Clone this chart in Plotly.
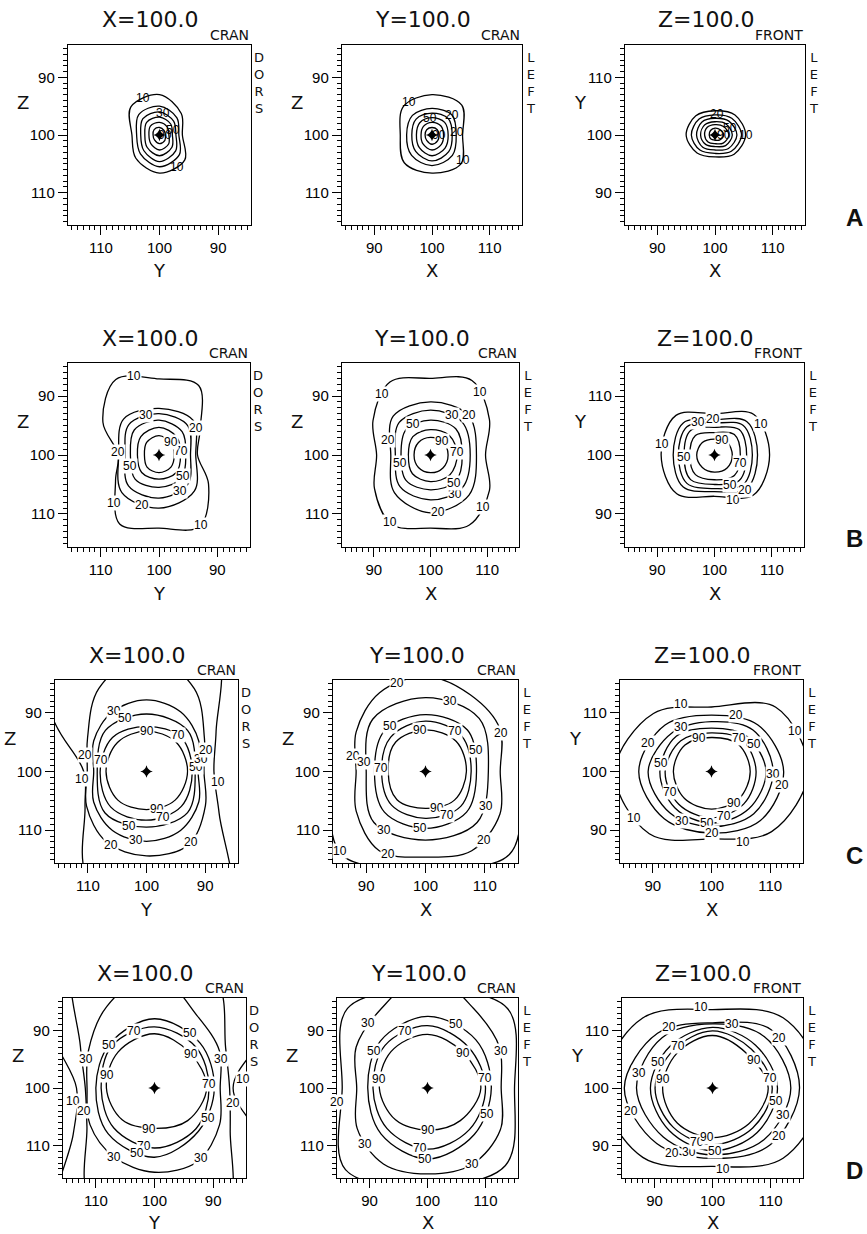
import math
import plotly.graph_objects as go

# ---------------------------------------------------------------------------
# DATA  (isodose contours)
# Each contour is a list of radii (data units) from the isocentre (100,100),
# evenly spaced counter-clockwise on screen starting at 3 o'clock.
# Labels: (level, screen angle in degrees) where the value is printed.
# ---------------------------------------------------------------------------
LEVELS_STD = [10, 20, 30, 50, 70, 90]

# ---- Row A
A1_LEVELS = LEVELS_STD
A1_RADII = [
    [3.9, 5.25, 7.0, 6.9, 4.7, 5.7, 6.6, 6.1],
    [3.3, 4.2, 5.0, 5.0, 3.9, 4.6, 5.5, 4.8],
    [2.8, 3.4, 4.0, 4.0, 3.2, 3.8, 4.6, 3.9],
    [2.2, 2.7, 3.1, 3.1, 2.5, 3.0, 3.6, 3.0],
    [1.6, 1.9, 2.2, 2.2, 1.8, 2.1, 2.6, 2.2],
    [1.0, 1.1, 1.3, 1.3, 1.1, 1.2, 1.5, 1.3],
]
A1_LABELS = [(10, 114), (10, 298), (30, 80), (50, 22), (90, 0)]

A2_LEVELS = LEVELS_STD
A2_RADII = [
    [5.3, 7.3, 7.0, 7.0, 5.5, 6.8, 6.6, 7.1],
    [4.2, 4.9, 4.6, 4.8, 4.4, 5.0, 5.3, 5.0],
    [3.5, 4.0, 3.8, 3.9, 3.5, 4.0, 4.5, 4.1],
    [2.8, 3.1, 3.0, 3.0, 2.7, 3.1, 3.6, 3.2],
    [2.0, 2.2, 2.2, 2.1, 1.9, 2.2, 2.6, 2.3],
    [1.2, 1.3, 1.3, 1.3, 1.2, 1.3, 1.6, 1.4],
]
A2_LABELS = [(10, 125), (10, 321), (50, 95), (20, 45), (20, 8), (90, 0)]

A3_LEVELS = LEVELS_STD
A3_RADII = [
    [5.3, 4.9, 4.2, 4.7, 5.0, 4.4, 3.8, 4.7],
    [4.6, 4.1, 3.5, 3.9, 4.1, 3.7, 3.2, 4.0],
    [3.8, 3.4, 2.9, 3.2, 3.2, 3.0, 2.6, 3.3],
    [3.0, 2.7, 2.3, 2.5, 2.5, 2.3, 2.0, 2.6],
    [2.4, 2.1, 1.8, 1.9, 1.8, 1.7, 1.5, 2.0],
    [1.5, 1.3, 1.2, 1.1, 1.0, 1.0, 0.9, 1.2],
]
A3_LABELS = [(10, 0), (20, 85), (50, 25), (90, 0)]

# ---- Row B
B1_LEVELS = LEVELS_STD
B1_RADII = [
    [6.6, 8.1, 13.6, 12.9, 14.8, 11.1, 7.0, 8.6, 13.5, 12.4, 14.0, 9.8],
    [6.3, 8.3, 7.9, 8.6, 6.9, 9.0, 9.0, 8.6],
    [5.4, 7.0, 7.0, 7.3, 5.8, 7.4, 7.3, 7.0],
    [4.6, 5.6, 5.9, 6.0, 4.9, 5.8, 5.5, 5.5],
    [3.7, 4.3, 4.7, 4.4, 3.7, 4.2, 4.1, 4.2],
    [2.6, 2.9, 3.3, 3.0, 2.5, 2.9, 3.0, 2.9],
]
B1_LABELS = [(10, 108), (10, 301), (10, 226), (20, 176), (20, 36), (20, 251), (30, 108),
             (30, 301), (50, 200), (50, 318), (70, 10), (90, 47)]

B2_LEVELS = LEVELS_STD
B2_RADII = [
    [9.7, 12.0, 14.6, 13.0, 14.3, 11.7, 9.5, 11.4, 13.6, 12.4, 13.7, 12.0],
    [8.1, 9.5, 9.0, 9.3, 7.0, 9.0, 9.8, 9.6],
    [7.0, 7.9, 7.6, 7.8, 6.2, 7.6, 7.6, 7.9],
    [5.6, 6.3, 5.9, 6.1, 5.2, 6.1, 5.9, 6.3],
    [4.7, 4.7, 4.3, 4.4, 3.9, 4.5, 4.5, 4.8],
    [3.1, 3.1, 3.0, 3.0, 2.9, 3.0, 3.0, 3.1],
]
B2_LABELS = [(10, 130), (10, 51), (10, 316), (10, 238), (20, 161), (20, 45), (30, 61),
             (20, 278), (30, 303), (50, 120), (50, 194), (50, 311), (70, 6), (90, 49)]

B3_LEVELS = LEVELS_STD
B3_RADII = [
    [9.6, 9.7, 7.0, 9.5, 9.3, 9.3, 7.0, 9.6],
    [7.5, 8.0, 6.0, 7.7, 7.2, 7.7, 6.2, 8.0],
    [6.6, 7.1, 5.4, 6.8, 6.3, 6.8, 5.7, 7.1],
    [5.6, 6.1, 4.7, 5.9, 5.3, 5.9, 5.0, 6.1],
    [4.5, 4.9, 3.8, 4.7, 4.3, 4.7, 4.2, 4.9],
    [3.1, 3.1, 2.7, 3.0, 3.1, 3.0, 2.9, 3.1],
]
B3_LABELS = [(10, 169), (10, 33), (10, 293), (20, 92), (30, 118), (50, 183), (90, 63),
             (70, 342), (50, 298), (20, 312)]

# ---- Row C
C1_LEVELS = LEVELS_STD
C1_RADII = [
    [11.5, 13.7, 24, 30, 40, 18.5, 10.7, 12.1, 20.6, 30, 28, 14.3],
    [9.8, 11.4, 16.3, 20.0, 16.3, 11.6, 10.1, 11.8, 13.8, 14.4, 14.4, 11.6],
    [8.8, 10.3, 11.7, 12.2, 11.7, 10.4, 9.0, 10.4, 11.6, 11.9, 11.6, 10.3],
    [8.3, 9.9, 9.8, 9.9, 8.4, 10.0, 9.5, 9.9],
    [7.8, 8.3, 7.7, 8.2, 7.9, 8.6, 8.3, 8.4],
    [7.0, 7.1, 6.9, 7.0, 6.9, 6.9, 6.5, 6.9],
]
C1_LABELS = [(30, 118), (50, 112), (90, 90), (70, 50), (20, 165), (70, 166), (10, 187),
             (50, 5), (30, 13), (20, 20), (10, 352), (90, 285), (70, 290), (50, 252),
             (20, 244), (30, 261), (20, 302)]

C2_LEVELS = LEVELS_STD
C2_RADII = [
    [16.2, 24, 18, 24, 16.2, 20.0, 16.3, 20.0],
    [12.6, 14.5, 15.1, 16.2, 15.5, 13.5, 11.7, 13.5, 15.6, 14.6, 15.6, 14.5],
    [10.6, 12.8, 12.6, 12.6, 10.0, 12.3, 11.7, 12.3],
    [8.6, 10.0, 9.7, 9.8, 8.6, 9.8, 9.7, 9.8],
    [7.7, 8.6, 8.6, 8.3, 7.4, 8.1, 8.0, 8.4],
    [6.9, 7.3, 7.1, 7.1, 6.3, 6.8, 6.3, 6.9],
]
C2_LABELS = [(20, 108), (30, 71), (50, 128), (90, 97), (70, 54), (20, 27), (50, 23),
             (20, 168), (30, 171), (70, 176), (30, 330), (90, 288), (70, 296), (50, 265),
             (30, 235), (20, 310), (20, 246), (10, 223)]

C3_LEVELS = LEVELS_STD
C3_RADII = [
    [16.5, 15.5, 11.0, 14.0, 16.5, 15.0, 11.5, 14.5],
    [12.3, 11.2, 9.6, 11.2, 12.4, 11.4, 10.5, 11.8],
    [10.5, 10.0, 8.5, 9.4, 10.8, 10.0, 9.4, 10.2],
    [9.3, 8.5, 7.4, 8.5, 8.8, 8.8, 8.8, 9.0],
    [7.6, 7.5, 6.6, 7.4, 7.9, 7.9, 7.9, 7.8],
    [6.6, 6.5, 5.8, 6.4, 6.5, 6.5, 6.4, 6.6],
]
C3_LABELS = [(10, 114), (20, 66), (10, 26), (30, 124), (90, 110), (70, 50), (50, 33),
             (20, 156), (50, 170), (30, 358), (20, 349), (70, 206), (10, 211), (90, 305),
             (70, 286), (30, 239), (50, 265), (20, 270), (10, 294)]

# ---- Row D
D1_LEVELS = LEVELS_STD
D1_RADII = [
    [13.4, 22, 30, 30, 30, 20, 13.3, 16, 40, 30, 30, 22],
    [12.8, 14.0, 21.6, 30, 27, 14.6, 11.8, 13.3, 22.4, 30, 24.8, 14.9],
    [11.2, 12.8, 14.5, 20, 16.3, 13.0, 11.5, 12.7, 13.8, 14.6, 14.7, 12.8],
    [10.2, 11.0, 12.0, 10.8, 10.0, 11.2, 12.0, 10.6],
    [9.3, 10.0, 10.6, 10.3, 9.1, 9.8, 10.4, 10.0],
    [8.9, 8.6, 9.4, 8.8, 8.2, 7.8, 7.0, 8.0],
]
D1_LABELS = [(70, 110), (50, 136), (50, 57), (90, 43), (30, 157), (30, 24), (90, 164),
             (10, 6), (70, 4), (20, 349), (10, 189), (20, 198), (50, 330), (90, 262),
             (70, 260), (50, 255), (30, 240), (30, 303)]

D2_LEVELS = [20, 30, 50, 70, 90]
D2_RADII = [
    [15.0, 19.5, 17.0, 19.5, 14.7, 20.0, 17.0, 19.0],
    [12.7, 14.3, 15.9, 20, 15.9, 14.2, 12.2, 14.0, 15.2, 14.9, 15.3, 14.5],
    [11.0, 11.8, 12.4, 11.5, 10.3, 11.3, 12.3, 11.4],
    [10.0, 10.0, 10.8, 10.4, 9.4, 9.9, 10.6, 10.2],
    [9.2, 8.7, 9.3, 8.9, 8.3, 7.8, 7.3, 8.0],
]
D2_LABELS = [(30, 132), (50, 66), (70, 111), (90, 45), (30, 27), (50, 145), (90, 169),
             (70, 10), (20, 189), (20, 351), (50, 336), (90, 270), (70, 263), (50, 268),
             (30, 222), (30, 300)]

D3_LEVELS = LEVELS_STD
D3_RADII = [
    [19, 17.2, 13.6, 17.1, 19, 17.0, 13.6, 17.2],
    [15.0, 14.3, 11.3, 13.4, 15.2, 13.6, 12.2, 14.0],
    [13.5, 12.6, 11.1, 12.3, 13.1, 12.0, 11.6, 12.6],
    [11.2, 10.5, 10.5, 10.3, 10.7, 10.5, 10.9, 10.9],
    [10.3, 9.5, 9.9, 9.4, 9.9, 9.6, 9.8, 9.8],
    [9.6, 8.4, 9.1, 8.6, 8.6, 8.6, 8.6, 8.8],
]
D3_LABELS = [(10, 98), (10, 277), (20, 125), (20, 37), (20, 196), (20, 324), (20, 238),
             (30, 73), (30, 168), (30, 339), (30, 250), (50, 154), (50, 348), (50, 272),
             (70, 129), (70, 10), (70, 254), (90, 34), (90, 170), (90, 264)]

ISOCENTRE = [100.0]
TICK_VALUES = [90, 100, 110]

COL_TITLES = ["X=100.0", "Y=100.0", "Z=100.0"]
COL_XLABELS = ["Y", "X", "X"]
COL_YLABELS = ["Z", "Z", "Y"]
COL_CORNER = ["CRAN", "CRAN", "FRONT"]
COL_SIDE = ["DORS", "LEFT", "LEFT"]
ROW_LETTERS = ["A", "B", "C", "D"]

PANELS = [
    (A1_LEVELS, A1_RADII, A1_LABELS), (A2_LEVELS, A2_RADII, A2_LABELS), (A3_LEVELS, A3_RADII, A3_LABELS),
    (B1_LEVELS, B1_RADII, B1_LABELS), (B2_LEVELS, B2_RADII, B2_LABELS), (B3_LEVELS, B3_RADII, B3_LABELS),
    (C1_LEVELS, C1_RADII, C1_LABELS), (C2_LEVELS, C2_RADII, C2_LABELS), (C3_LEVELS, C3_RADII, C3_LABELS),
    (D1_LEVELS, D1_RADII, D1_LABELS), (D2_LEVELS, D2_RADII, D2_LABELS), (D3_LEVELS, D3_RADII, D3_LABELS),
]

# ---------------------------------------------------------------------------
# LAYOUT (pixel boxes of each panel: left, top, right, bottom)
# ---------------------------------------------------------------------------
W, H = 867, 1234
BOXES = [
    (68, 45, 251, 225), (342, 45, 522, 225), (625, 45, 805, 225),
    (68, 363, 250, 547), (342, 363, 519, 547), (625, 363, 804, 547),
    (55, 680, 238, 863), (333, 680, 518, 863), (620, 680, 803, 863),
    (63, 998, 246, 1178), (337, 998, 518, 1178), (622, 998, 803, 1178),
]
COL_XREV = [True, False, False]
COL_YDOWN = [True, True, False]
HALF = 15.6
LO, HI = 100 - HALF, 100 + HALF

TEXT_FONT = "DejaVu Sans"
TICK_FONT = "Liberation Sans"


def px(x):
    return x / W


def py(y):
    return 1 - y / H


def ring(radii, sx, sy):
    n = len(radii)
    xs, ys = [], []
    for k, r in enumerate(radii):
        a = math.radians(360.0 * k / n)
        xs.append(100 + sx * r * math.cos(a))
        ys.append(100 + sy * r * math.sin(a))
    xs.append(xs[0])
    ys.append(ys[0])
    return xs, ys


def radius_at(radii, ang):
    n = len(radii)
    step = 360.0 / n
    f = (ang % 360) / step
    k = int(math.floor(f))
    t = f - k
    return radii[k % n] * (1 - t) + radii[(k + 1) % n] * t


def paper_text(x, y, text, size, family=TEXT_FONT, xanchor="center", yanchor="middle"):
    return dict(x=px(x), y=py(y), xref="paper", yref="paper", text=text, showarrow=False,
                xanchor=xanchor, yanchor=yanchor,
                font=dict(family=family, size=size, color="#111"))


fig = go.Figure()
annotations = []
layout = dict(
    width=W, height=H, margin=dict(l=0, r=0, t=0, b=0),
    paper_bgcolor="white", plot_bgcolor="white", showlegend=False,
)

for i, (levels, radii_list, labels) in enumerate(PANELS):
    row, col = divmod(i, 3)
    suf = "" if i == 0 else str(i + 1)
    xa, ya = "x" + suf, "y" + suf
    l, t, r, b = BOXES[i]
    sx = -1 if COL_XREV[col] else 1
    sy = -1 if COL_YDOWN[col] else 1

    common = dict(
        showgrid=False, zeroline=False, showline=True, linecolor="black", linewidth=1.4,
        mirror=True, ticks="outside", ticklen=9, tickwidth=1.2, tickcolor="black",
        tickmode="array", tickvals=TICK_VALUES, ticktext=[str(v) for v in TICK_VALUES],
        tickfont=dict(family=TICK_FONT, size=15, color="black"),
        minor=dict(ticks="outside", ticklen=4, tickwidth=1, tickcolor="black",
                   tickmode="linear", tick0=0, dtick=1),
        fixedrange=True,
    )
    layout["xaxis" + suf] = dict(common, domain=[px(l), px(r)], anchor=ya,
                                 range=[HI, LO] if sx < 0 else [LO, HI])
    layout["yaxis" + suf] = dict(common, domain=[py(b), py(t)], anchor=xa,
                                 range=[HI, LO] if sy < 0 else [LO, HI])

    lev_radius = {}
    for lev, radii in zip(levels, radii_list):
        lev_radius[lev] = radii
        xs, ys = ring(radii, sx, sy)
        fig.add_trace(go.Scatter(
            x=xs, y=ys, xaxis=xa, yaxis=ya, mode="lines",
            line=dict(color="black", width=1.3, shape="spline", smoothing=1.0, simplify=False),
            hoverinfo="skip",
        ))

    fig.add_trace(go.Scatter(
        x=ISOCENTRE, y=ISOCENTRE, xaxis=xa, yaxis=ya, mode="markers",
        marker=dict(symbol="star-diamond", size=9, color="black"), hoverinfo="skip",
    ))

    for lev, ang in labels:
        rr = radius_at(lev_radius[lev], ang)
        a = math.radians(ang)
        annotations.append(dict(
            x=100 + sx * rr * math.cos(a), y=100 + sy * rr * math.sin(a),
            xref=xa, yref=ya, text=str(lev), showarrow=False,
            xanchor="center", yanchor="middle",
            font=dict(family=TICK_FONT, size=12, color="black"),
            bgcolor=None if row == 0 else "white", borderpad=0,
        ))

    cx = (l + r) / 2
    annotations.append(paper_text(cx - 9, t - 25, COL_TITLES[col], 22))
    annotations.append(paper_text(r, t - 10, COL_CORNER[col], 14, xanchor="right"))
    annotations.append(paper_text(r + 8, t + 3, "<br>".join(COL_SIDE[col]), 13, yanchor="top"))
    annotations.append(paper_text(cx, min(b + 46, 1222), COL_XLABELS[col], 18))
    annotations.append(paper_text(l - 45, t + 0.32 * (b - t), COL_YLABELS[col], 18))
    if col == 2:
        annotations.append(paper_text(854, b - 8, "<b>%s</b>" % ROW_LETTERS[row], 24,
                                      family="Liberation Sans"))

layout["annotations"] = annotations
fig.update_layout(**layout)
fig.write_html("out.html")
